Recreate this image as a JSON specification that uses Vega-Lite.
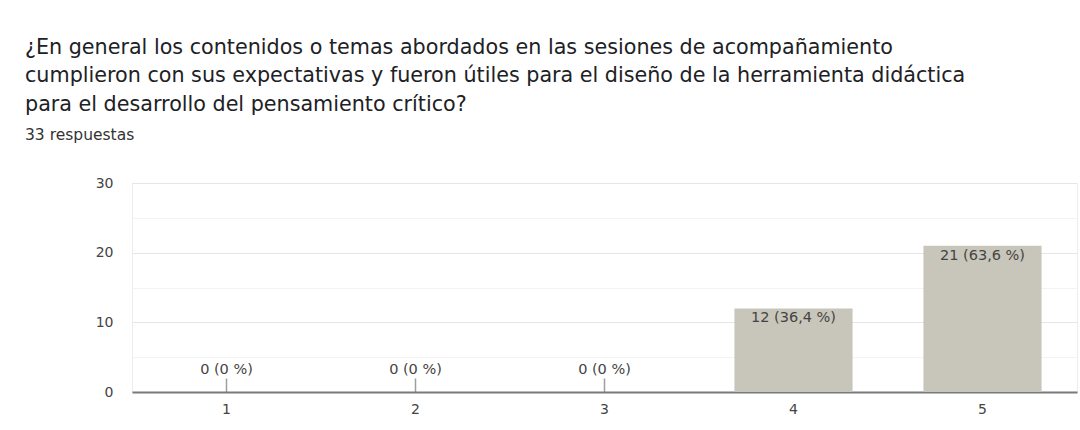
{
  "$schema": "https://vega.github.io/schema/vega-lite/v6.json",
  "width": 945,
  "height": 209,
  "autosize": {"type": "none"},
  "padding": {"left": 132, "top": 183, "right": 3, "bottom": 38},
  "background": "white",
  "title": {
    "text": [
      "¿En general los contenidos o temas abordados en las sesiones de acompañamiento",
      "cumplieron con sus expectativas y fueron útiles para el diseño de la herramienta didáctica",
      "para el desarrollo del pensamiento crítico?"
    ],
    "subtitle": "33 respuestas",
    "anchor": "start",
    "frame": "group",
    "dx": -107,
    "offset": 32,
    "font": "DejaVu Sans",
    "fontSize": 20.7,
    "fontWeight": "normal",
    "color": "#202124",
    "lineHeight": 28.5,
    "subtitleFont": "DejaVu Sans",
    "subtitleFontSize": 15.5,
    "subtitleColor": "#333333",
    "subtitlePadding": 12
  },
  "config": {
    "view": {"stroke": "#ececec"}
  },
  "data": {
    "values": [
      {"opcion": "1", "count": 0, "label": "0 (0 %)"},
      {"opcion": "2", "count": 0, "label": "0 (0 %)"},
      {"opcion": "3", "count": 0, "label": "0 (0 %)"},
      {"opcion": "4", "count": 12, "label": "12 (36,4 %)"},
      {"opcion": "5", "count": 21, "label": "21 (63,6 %)"}
    ]
  },
  "encoding": {
    "x": {
      "field": "opcion",
      "type": "ordinal",
      "scale": {"paddingInner": 0.375, "paddingOuter": 0.1875},
      "axis": {
        "title": null,
        "labelAngle": 0,
        "labelFont": "DejaVu Sans",
        "labelFontSize": 14,
        "labelColor": "#444444",
        "tickSize": -14,
        "tickColor": "#9e9e9e",
        "tickWidth": 1.5,
        "domainColor": "#7a7a7a",
        "domainWidth": 2,
        "labelPadding": 24,
        "grid": false
      }
    },
    "y": {
      "field": "count",
      "type": "quantitative",
      "scale": {"domain": [0, 30]},
      "axis": {
        "title": null,
        "values": [0, 5, 10, 15, 20, 25, 30],
        "labelExpr": "datum.value % 10 == 0 ? datum.label : ''",
        "ticks": false,
        "domain": false,
        "labelPadding": 19,
        "labelFont": "DejaVu Sans",
        "labelFontSize": 14,
        "labelColor": "#444444",
        "gridColor": {"condition": {"test": "datum.value % 10 === 0", "value": "#e6e6e6"}, "value": "#f3f3f3"}
      }
    }
  },
  "layer": [
    {"mark": {"type": "bar", "color": "#c8c5ba"}},
    {
      "transform": [{"filter": "datum.count > 0"}],
      "mark": {"type": "text", "baseline": "middle", "dy": 10, "font": "DejaVu Sans", "fontSize": 14.5, "color": "#444444"},
      "encoding": {"text": {"field": "label"}}
    },
    {
      "transform": [{"filter": "datum.count == 0"}],
      "mark": {"type": "text", "baseline": "middle", "dy": -22, "font": "DejaVu Sans", "fontSize": 14.5, "color": "#444444"},
      "encoding": {"text": {"field": "label"}}
    }
  ]
}
